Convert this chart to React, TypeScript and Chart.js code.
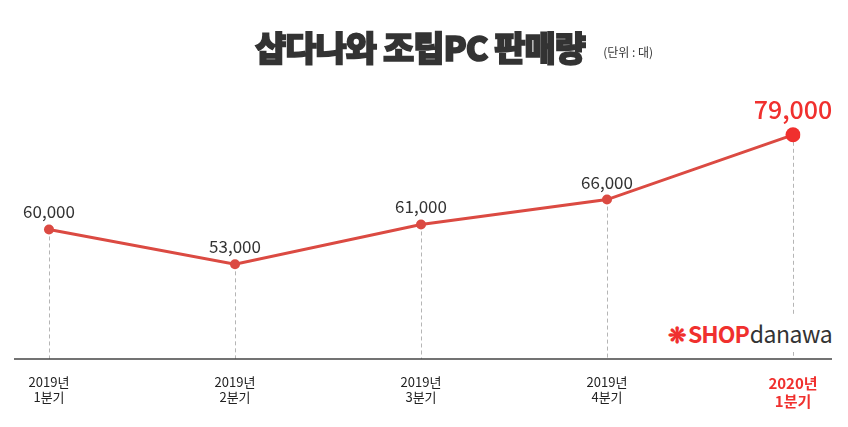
import React, { useEffect, useRef } from 'react';
import Chart from 'chart.js/auto';

const quarters: string[][] = [
    ['2019년', '1분기'],
    ['2019년', '2분기'],
    ['2019년', '3분기'],
    ['2019년', '4분기'],
    ['2020년', '1분기'],
];
const sales: number[] = [60000, 53000, 61000, 66000, 79000];

const RED = '#db4a42';
const HIGHLIGHT = '#f0302e';
const FONT = '"Noto Sans CJK KR", "Noto Sans", sans-serif';

const guidesPlugin = {
    id: 'guides',
    beforeDatasetsDraw(chart: any) {
        const { ctx, chartArea } = chart;
        const meta = chart.getDatasetMeta(0);
        ctx.save();
        ctx.strokeStyle = '#b5b5b5';
        ctx.lineWidth = 1;
        ctx.setLineDash([4, 3]);
        meta.data.forEach((pt: any) => {
            const x = Math.round(pt.x) + 0.5;
            ctx.beginPath();
            ctx.moveTo(x, pt.y);
            ctx.lineTo(x, chartArea.bottom);
            ctx.stroke();
        });
        ctx.setLineDash([]);
        // baseline runs a bit past the first and last point
        ctx.strokeStyle = '#444';
        ctx.lineWidth = 1.5;
        ctx.beginPath();
        ctx.moveTo(chartArea.left - 35, chartArea.bottom);
        ctx.lineTo(chartArea.right + 39, chartArea.bottom);
        ctx.stroke();
        ctx.restore();
    },
};

const valueLabelsPlugin = {
    id: 'valueLabels',
    afterDatasetsDraw(chart: any) {
        const { ctx } = chart;
        const meta = chart.getDatasetMeta(0);
        const values = chart.data.datasets[0].data as number[];
        ctx.save();
        ctx.textAlign = 'center';
        ctx.textBaseline = 'bottom';
        meta.data.forEach((pt: any, i: number) => {
            const last = i === values.length - 1;
            ctx.font = last ? `500 25px ${FONT}` : `400 17px ${FONT}`;
            ctx.fillStyle = last ? HIGHLIGHT : '#333';
            ctx.fillText(values[i].toLocaleString('en-US'), pt.x, pt.y - (last ? 13 : 9));
        });
        ctx.restore();
    },
};

const SalesChart: React.FC = () => {
    const canvasRef = useRef<HTMLCanvasElement | null>(null);

    useEffect(() => {
        if (!canvasRef.current) return;
        const last = sales.length - 1;
        const chart = new Chart(canvasRef.current, {
            type: 'line',
            data: {
                labels: quarters,
                datasets: [{
                    data: sales,
                    borderColor: RED,
                    borderWidth: 3,
                    tension: 0,
                    pointBackgroundColor: (c: any) => (c.dataIndex === last ? HIGHLIGHT : RED),
                    pointBorderColor: (c: any) => (c.dataIndex === last ? HIGHLIGHT : RED),
                    pointRadius: (c: any) => (c.dataIndex === last ? 7.5 : 5),
                    pointBorderWidth: 0,
                }],
            },
            options: {
                animation: false,
                responsive: true,
                maintainAspectRatio: false,
                layout: { padding: { left: 49, right: 55, top: 80, bottom: 0 } },
                plugins: {
                    legend: { display: false },
                    tooltip: { enabled: false },
                },
                scales: {
                    x: {
                        offset: false,
                        border: { display: false },
                        grid: { display: false, drawTicks: false },
                        ticks: {
                            padding: 15,
                            maxRotation: 0,
                            autoSkip: false,
                            color: (c: any) => (c.index === last ? HIGHLIGHT : '#222'),
                            font: (c: any) => (c.index === last
                                ? { family: FONT, size: 15, weight: 'bold', lineHeight: 1.2 }
                                : { family: FONT, size: 13, weight: 'normal', lineHeight: 1.2 }),
                        },
                        afterFit: (scale: any) => { scale.height = 68; },
                    },
                    y: {
                        display: false,
                        min: 34000,
                        max: 90000,
                    },
                },
            },
            plugins: [guidesPlugin, valueLabelsPlugin],
        });
        return () => chart.destroy();
    }, []);

    return <canvas ref={canvasRef} />;
};

export default function App() {
    return (
        <div style={{ position: 'fixed', left: 0, top: 0, width: 848, height: 427, background: '#fff', fontFamily: FONT }}>
            <div style={{ position: 'absolute', inset: 0 }}>
                <SalesChart />
            </div>
            <div style={{ position: 'absolute', left: 255, top: 22, whiteSpace: 'nowrap', color: '#333' }}>
                <span style={{ fontSize: 34, fontWeight: 900, letterSpacing: -1, WebkitTextStroke: '1.6px #333' }}>샵다나와 조립PC 판매량</span>
                <span style={{ fontSize: 12, marginLeft: 18, verticalAlign: 4 }}>(단위 : 대)</span>
            </div>
            <div style={{ position: 'absolute', left: 664, top: 314, padding: '2px 4px', background: '#fff', whiteSpace: 'nowrap', display: 'flex', alignItems: 'center' }}>
                <span style={{ color: HIGHLIGHT, fontSize: 22, fontWeight: 700, marginRight: 2 }}>❋</span>
                <span style={{ color: HIGHLIGHT, fontSize: 23, fontWeight: 700, letterSpacing: -1 }}>SHOP</span>
                <span style={{ color: '#333', fontSize: 23, fontWeight: 400, letterSpacing: -0.5, marginLeft: 1 }}>danawa</span>
            </div>
        </div>
    );
}
